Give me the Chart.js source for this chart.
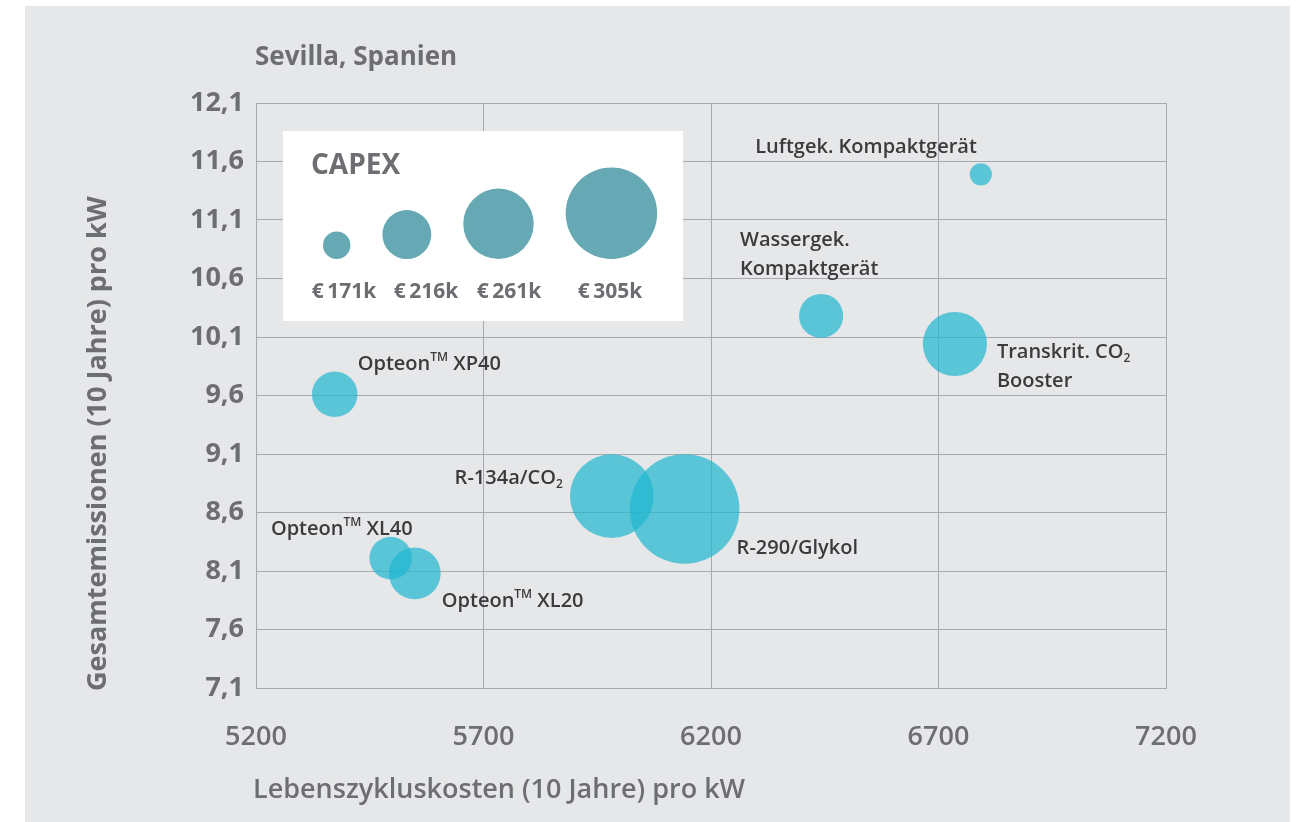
<!DOCTYPE html>
<html>
<head>
<meta charset="utf-8">
<script src="https://cdn.jsdelivr.net/npm/chart.js@4.4.1/dist/chart.umd.min.js"></script>
<style>
  html, body { margin: 0; padding: 0; background: #fff; }
  canvas { display: block; }
</style>
</head>
<body>
<canvas id="myChart" width="1310" height="822"></canvas>
<script>
// Daten
const names = ["Luftgek. Kompaktgerät", "Wassergek.\nKompaktgerät", "Transkrit. CO₂\nBooster", "Opteon™ XP40", "R-134a/CO₂", "R-290/Glykol", "Opteon™ XL40", "Opteon™ XL20"];
const kosten = [6793, 6442, 6736, 5373, 5982, 6142, 5496, 5549];
const emissionen = [11.49, 10.28, 10.04, 9.61, 8.74, 8.63, 8.21, 8.08];
const capex = [160, 206, 248, 209, 289, 343, 203, 222];
const capexLegend = [171, 216, 261, 305];
const xTicks = [5200, 5700, 6200, 6700, 7200];
const yTicks = [7.1, 7.6, 8.1, 8.6, 9.1, 9.6, 10.1, 10.6, 11.1, 11.6, 12.1];
const yTickLabels = ["7,1", "7,6", "8,1", "8,6", "9,1", "9,6", "10,1", "10,6", "11,1", "11,6", "12,1"];

// Beschriftung neben den Blasen (Versatz in px)
const labelPos = [
  { dx: -4, dy: -27, align: "right" },
  { dx: -81, dy: -76, align: "left" },
  { dx: 42, dy: 8, align: "left" },
  { dx: 23, dy: -30, align: "left" },
  { dx: -49, dy: -18, align: "right" },
  { dx: 52, dy: 39, align: "left" },
  { dx: 22, dy: -29, align: "right" },
  { dx: 27, dy: 28, align: "left" },
];

const grau = "#6d6e71";
const dunkel = "#3b3b3d";
const gridFarbe = "#a7a9ac";
const FONT = '"Open Sans", "Noto Sans", sans-serif';

// CAPEX (k€) -> Radius in px
function capexRadius(v) {
  return (v - 113.7) * 0.239;
}

function drawRich(c, text, x, y, align, size) {
  const segs = [];
  for (const ch of text) {
    const type = ch === "™" ? "sup" : ch === "₂" ? "sub" : "n";
    const t = ch === "™" ? "TM" : ch === "₂" ? "2" : ch;
    if (segs.length && segs[segs.length - 1].type === type) segs[segs.length - 1].t += t;
    else segs.push({ type, t });
  }
  const fontFor = (type) => `600 ${type === "n" ? size : Math.round(size * 0.58)}px ${FONT}`;
  let w = 0;
  segs.forEach((s) => {
    c.font = fontFor(s.type);
    s.w = c.measureText(s.t).width;
    w += s.w;
  });
  let cx = align === "right" ? x - w : x;
  c.textAlign = "left";
  segs.forEach((s) => {
    c.font = fontFor(s.type);
    const oy = s.type === "sup" ? -size * 0.34 : s.type === "sub" ? size * 0.32 : 0;
    c.fillText(s.t, cx, y + oy);
    cx += s.w;
  });
}

// Hintergrund
const bgPlugin = {
  id: "bg",
  beforeDraw(chart) {
    const c = chart.ctx;
    c.save();
    c.fillStyle = "#ffffff";
    c.fillRect(0, 0, chart.width, chart.height);
    c.fillStyle = "#e6e7e8";
    c.fillRect(25, 6, 1265, 816);
    c.restore();
  },
};

// Beschriftungen, Titel, CAPEX-Legende
const textPlugin = {
  id: "texte",
  afterDraw(chart) {
    const c = chart.ctx;
    const meta = chart.getDatasetMeta(0);
    c.save();
    c.fillStyle = dunkel;
    c.textBaseline = "middle";
    meta.data.forEach((el, i) => {
      const p = labelPos[i];
      names[i].split("\n").forEach((line, k) => {
        drawRich(c, line, el.x + p.dx, el.y + p.dy + k * 29, p.align, 20);
      });
    });

    // Titel
    c.fillStyle = grau;
    c.textAlign = "left";
    c.font = `700 26px ${FONT}`;
    c.fillText("Sevilla, Spanien", 255, 58);
    c.font = `600 27px ${FONT}`;
    c.fillText("Lebenszykluskosten (10 Jahre) pro kW", 253, 790);
    c.save();
    c.translate(98, 691);
    c.rotate(-Math.PI / 2);
    c.font = `700 27px ${FONT}`;
    c.fillText("Gesamtemissionen (10 Jahre) pro kW", 0, 0);
    c.restore();

    // CAPEX-Legende
    c.fillStyle = "#ffffff";
    c.fillRect(283, 131, 400, 190);
    c.fillStyle = grau;
    c.font = `700 28px ${FONT}`;
    c.fillText("CAPEX", 311, 166);
    const labelX = [344, 426, 509, 610];
    let x = 323;
    capexLegend.forEach((v, i) => {
      const r = capexRadius(v);
      c.fillStyle = "#66a9b4";
      c.beginPath();
      c.arc(x + r, 259 - r, r, 0, Math.PI * 2);
      c.fill();
      x += 2 * r + 32;
      c.fillStyle = grau;
      c.textAlign = "center";
      c.font = `700 21px ${FONT}`;
      c.fillText("€\u2009" + v + "k", labelX[i], 292);
    });
    c.restore();
  },
};

const ctx = document.getElementById("myChart");
new Chart(ctx, {
  type: "bubble",
  data: {
    datasets: [
      {
        data: kosten.map((k, i) => ({ x: k, y: emissionen[i], r: capexRadius(capex[i]) })),
        backgroundColor: "rgba(31,182,209,0.7)",
        borderWidth: 0,
        hoverBorderWidth: 0,
      },
    ],
  },
  options: {
    responsive: false,
    animation: false,
    devicePixelRatio: 1,
    events: [],
    layout: { padding: { left: 0, top: 103, right: 144, bottom: 0 } },
    plugins: { legend: { display: false }, tooltip: { enabled: false } },
    scales: {
      x: {
        type: "linear",
        min: 5200,
        max: 7200,
        afterBuildTicks: (s) => { s.ticks = xTicks.map((v) => ({ value: v })); },
        afterFit: (s) => { s.height = 134; },
        grid: { color: gridFarbe, drawTicks: false },
        border: { color: gridFarbe },
        ticks: { padding: 33, color: grau, font: { family: FONT, size: 27, weight: "600" }, callback: (v) => String(v) },
      },
      y: {
        type: "linear",
        min: 7.1,
        max: 12.1,
        afterBuildTicks: (s) => { s.ticks = yTicks.map((v) => ({ value: v })); },
        afterFit: (s) => { s.width = 256; },
        grid: { color: gridFarbe, drawTicks: false },
        border: { color: gridFarbe },
        ticks: {
          padding: 12,
          color: grau,
          font: { family: FONT, size: 27, weight: "700" },
          callback: (v) => yTickLabels[yTicks.indexOf(v)] ?? "",
        },
      },
    },
  },
  plugins: [bgPlugin, textPlugin],
});
</script>
</body>
</html>
